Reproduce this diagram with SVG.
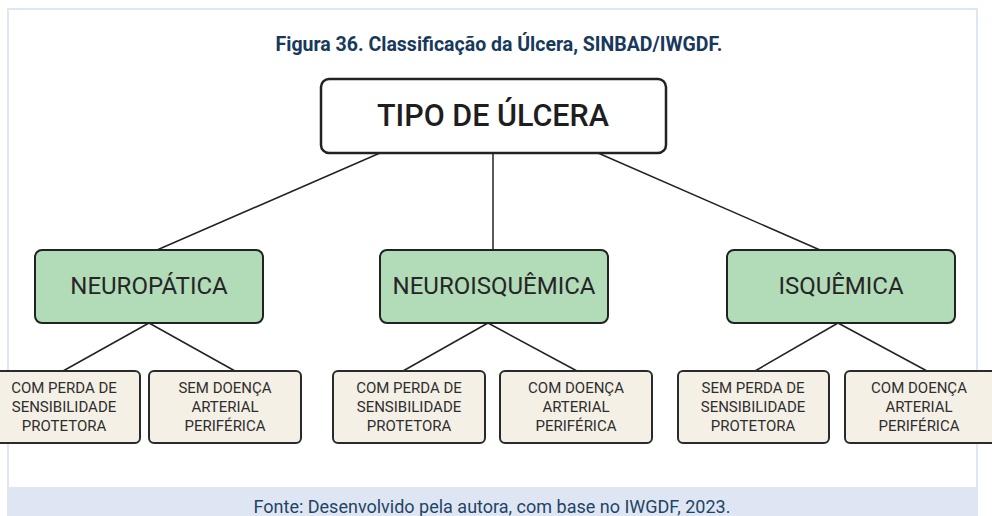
<svg xmlns="http://www.w3.org/2000/svg" width="992" height="516" viewBox="0 0 992 516">
  <style>
    .frame { fill: #ffffff; stroke: #dfe7f5; stroke-width: 2; }
    .footer { fill: #dfe6f3; }
    .title { font-family: Roboto, "Liberation Sans", sans-serif; font-weight: bold; font-size: 19.5px; fill: #17395b; }
    .src { font-family: Roboto, "Liberation Sans", sans-serif; font-size: 18px; fill: #1f4466; }
    .root rect { fill: #ffffff; stroke: #222222; stroke-width: 2.5; }
    .mid rect { fill: #b2dbb8; stroke: #222222; stroke-width: 2; }
    .leaf rect { fill: #f4f0e6; stroke: #2a2a2a; stroke-width: 2; }
    .t1 { font-family: Roboto, "Liberation Sans", sans-serif; font-weight: 500; font-size: 30.5px; fill: #1e1e1e; text-anchor: middle; }
    .t2 { font-family: Roboto, "Liberation Sans", sans-serif; font-size: 24px; fill: #262626; text-anchor: middle; }
    .t3 { font-family: Roboto, "Liberation Sans", sans-serif; font-size: 15px; fill: #2e2e2e; text-anchor: middle; }
    .conn line { stroke: #222222; stroke-width: 1.5; }
  </style>
  <rect class="frame" x="8" y="9" width="969" height="500"/>
  <rect class="footer" x="7" y="487" width="971" height="29"/>
  <text class="title" x="499" y="51" text-anchor="middle">Figura 36. Classificação da Úlcera, SINBAD/IWGDF.</text>
  <text class="src" x="492" y="513" text-anchor="middle">Fonte: Desenvolvido pela autora, com base no IWGDF, 2023.</text>

  <g id="connectors" class="conn">
    <line x1="380" y1="153" x2="157" y2="250"/>
    <line x1="493" y1="153" x2="493" y2="250"/>
    <line x1="598" y1="153" x2="820" y2="250"/>
    <line x1="149" y1="323" x2="63" y2="371"/>
    <line x1="149" y1="323" x2="235" y2="371"/>
    <line x1="488" y1="323" x2="403" y2="371"/>
    <line x1="488" y1="323" x2="577" y2="371"/>
    <line x1="838" y1="323" x2="755" y2="371"/>
    <line x1="838" y1="323" x2="927" y2="371"/>
  </g>

  <g id="root" class="root">
    <rect x="321" y="79" width="345" height="74" rx="8"/>
    <text class="t1" x="493" y="126">TIPO DE ÚLCERA</text>
  </g>

  <g id="neuropatica" class="mid">
    <rect x="35" y="250" width="228" height="73" rx="7"/>
    <text class="t2" x="149" y="294">NEUROPÁTICA</text>
  </g>
  <g id="neuroisquemica" class="mid">
    <rect x="380" y="250" width="228" height="73" rx="7"/>
    <text class="t2" x="494" y="294">NEUROISQUÊMICA</text>
  </g>
  <g id="isquemica" class="mid">
    <rect x="727" y="250" width="228" height="73" rx="7"/>
    <text class="t2" x="841" y="294">ISQUÊMICA</text>
  </g>

  <g id="leaf1" class="leaf">
    <rect x="-12" y="371" width="152" height="72" rx="5"/>
    <text class="t3" x="64" y="393">COM PERDA DE</text>
    <text class="t3" x="64" y="412">SENSIBILIDADE</text>
    <text class="t3" x="64" y="431">PROTETORA</text>
  </g>
  <g id="leaf2" class="leaf">
    <rect x="149" y="371" width="152" height="72" rx="5"/>
    <text class="t3" x="225" y="393">SEM DOENÇA</text>
    <text class="t3" x="225" y="412">ARTERIAL</text>
    <text class="t3" x="225" y="431">PERIFÉRICA</text>
  </g>
  <g id="leaf3" class="leaf">
    <rect x="333" y="371" width="152" height="72" rx="5"/>
    <text class="t3" x="409" y="393">COM PERDA DE</text>
    <text class="t3" x="409" y="412">SENSIBILIDADE</text>
    <text class="t3" x="409" y="431">PROTETORA</text>
  </g>
  <g id="leaf4" class="leaf">
    <rect x="500" y="371" width="152" height="72" rx="5"/>
    <text class="t3" x="576" y="393">COM DOENÇA</text>
    <text class="t3" x="576" y="412">ARTERIAL</text>
    <text class="t3" x="576" y="431">PERIFÉRICA</text>
  </g>
  <g id="leaf5" class="leaf">
    <rect x="678" y="371" width="151" height="72" rx="5"/>
    <text class="t3" x="753" y="393">SEM PERDA DE</text>
    <text class="t3" x="753" y="412">SENSIBILIDADE</text>
    <text class="t3" x="753" y="431">PROTETORA</text>
  </g>
  <g id="leaf6" class="leaf">
    <rect x="845" y="371" width="152" height="72" rx="5"/>
    <text class="t3" x="919" y="393">COM DOENÇA</text>
    <text class="t3" x="919" y="412">ARTERIAL</text>
    <text class="t3" x="919" y="431">PERIFÉRICA</text>
  </g>
</svg>
